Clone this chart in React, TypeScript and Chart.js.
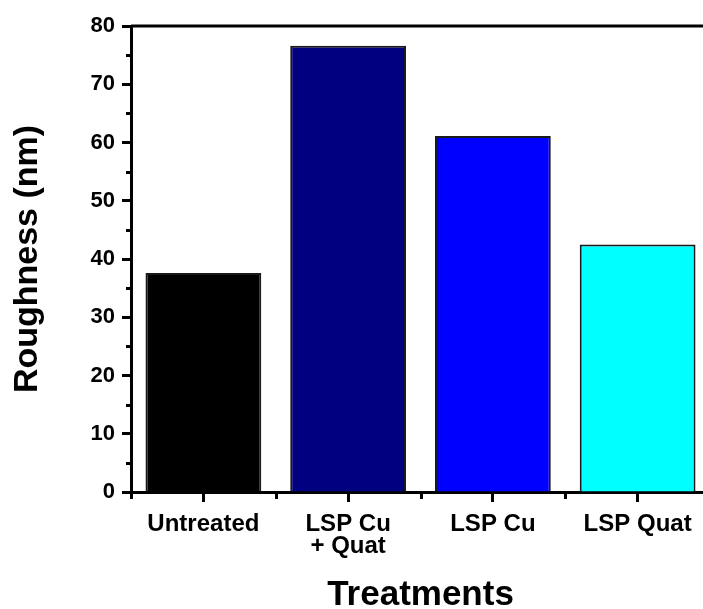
import React, { useEffect, useRef } from 'react';
import { Chart, registerables } from 'chart.js';

Chart.register(...registerables);

const categories: (string | string[])[] = ['Untreated', ['LSP Cu', '+ Quat'], 'LSP Cu', 'LSP Quat'];
const roughness = [37.6, 76.6, 61.1, 42.5];
const barColors = ['#000000', '#000080', '#0000FF', '#00FFFF'];
const yMin = 0;
const yMax = 80;
const yStep = 10;
const xTitle = 'Treatments';
const yTitle = 'Roughness (nm)';

const FONT = "'Liberation Sans', Arial, Helvetica, sans-serif";

const framePlugin = {
  id: 'frame',
  afterDraw(chart: any) {
    const { ctx, chartArea: a, scales } = chart;
    ctx.save();
    ctx.strokeStyle = '#000';
    ctx.lineWidth = 3;
    ctx.lineCap = 'butt';
    ctx.beginPath();
    // top border
    ctx.moveTo(a.left, a.top);
    ctx.lineTo(a.right, a.top);
    // minor y ticks (midpoints between major ticks)
    const y = scales.y;
    const yt = y.ticks;
    for (let i = 1; i < yt.length; i++) {
      const v = (yt[i - 1].value + yt[i].value) / 2;
      const py = Math.round(y.getPixelForValue(v)) + 0.5;
      ctx.moveTo(a.left - 5, py);
      ctx.lineTo(a.left, py);
    }
    // minor x ticks (category boundaries)
    const x = scales.x;
    const n = x.ticks.length;
    for (let i = 0; i <= n; i++) {
      const px = Math.round(x.getPixelForValue(i - 0.5)) + 0.5;
      ctx.moveTo(px, a.bottom);
      ctx.lineTo(px, a.bottom + 7);
    }
    ctx.stroke();
    ctx.restore();
  },
};

export default function App() {
  const ref = useRef<HTMLCanvasElement>(null);
  useEffect(() => {
    if (!ref.current) return;
    const chart = new Chart(ref.current, {
      type: 'bar',
      data: {
        labels: categories,
        datasets: [
          {
            data: roughness,
            backgroundColor: barColors,
            borderColor: '#1a1a1a',
            borderWidth: 2,
            barPercentage: 0.8,
            categoryPercentage: 1,
          },
        ],
      },
      options: {
        animation: false,
        responsive: false,
        layout: { padding: { top: 26, right: 10, left: 0, bottom: 0 } },
        plugins: { legend: { display: false }, tooltip: { enabled: false } },
        scales: {
          x: {
            z: 1,
            offset: true,
            grid: {
              offset: false,
              drawOnChartArea: false,
              drawTicks: true,
              tickLength: 10,
              tickWidth: 3,
              tickColor: '#000',
            },
            border: { display: true, width: 3, color: '#000' },
            ticks: {
              color: '#000',
              padding: 11,
              maxRotation: 0,
              autoSkip: false,
              font: { family: FONT, size: 24, weight: 'bold', lineHeight: 22 / 24 },
            },
            title: {
              display: true,
              text: xTitle,
              color: '#000',
              padding: { top: 0, bottom: 0 },
              font: { family: FONT, size: 35, weight: 'bold', lineHeight: 0.8 },
            },
            afterFit(scale: any) {
              scale.height = 117;
            },
          },
          y: {
            z: 1,
            min: yMin,
            max: yMax,
            grid: {
              drawOnChartArea: false,
              drawTicks: true,
              tickLength: 9,
              tickWidth: 3,
              tickColor: '#000',
            },
            border: { display: true, width: 3, color: '#000' },
            ticks: {
              stepSize: yStep,
              color: '#000',
              padding: 7,
              font: { family: FONT, size: 22, weight: 'bold' },
            },
            title: {
              display: true,
              text: yTitle,
              color: '#000',
              padding: { top: 7, bottom: 0 },
              font: { family: FONT, size: 34, weight: 'bold', lineHeight: 1.2 },
            },
            afterFit(scale: any) {
              scale.width = 131;
            },
          },
        },
      },
      plugins: [framePlugin],
    });
    return () => chart.destroy();
  }, []);
  return (
    <div style={{ position: 'fixed', left: 0, top: 0, width: 703, height: 609, overflow: 'hidden', background: '#fff' }}>
      <canvas ref={ref} width={720} height={609} style={{ width: 720, height: 609, display: 'block' }} />
    </div>
  );
}
